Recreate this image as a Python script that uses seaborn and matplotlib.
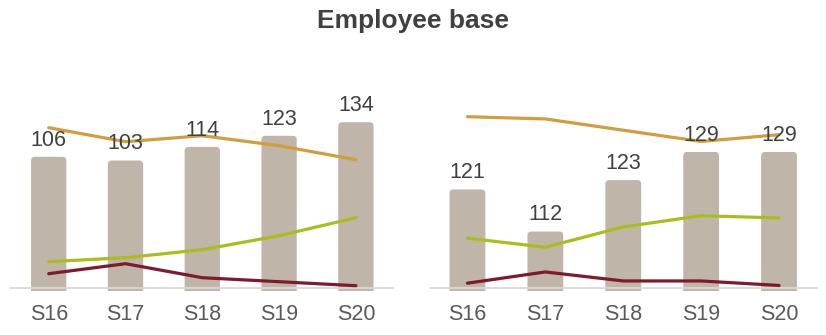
import numpy as np
import pandas as pd
import matplotlib
matplotlib.use("Agg")
import matplotlib.pyplot as plt
import seaborn as sns
from matplotlib.patches import FancyBboxPatch

# ---- data -------------------------------------------------------------
periods = ["S16", "S17", "S18", "S19", "S20"]

left_totals = [106, 103, 114, 123, 134]
left_gold = [80, 73, 76, 71, 64]
left_green = [13, 15, 19, 26, 35]
left_red = [7, 12, 5, 3, 1]

right_totals = [121, 112, 123, 129, 129]
right_gold = [76, 75, 70, 65, 68]
right_green = [22, 18, 27, 32, 31]
right_red = [2, 7, 3, 3, 1]

# ---- style ------------------------------------------------------------
BAR = "#BFB6A9"
GOLD = "#D09E3B"
GREEN = "#A9BE1B"
RED = "#7E1A2B"
LABEL = "#404040"
TICK = "#595959"
BASE = "#D9D9D9"

sns.set_theme(style="white")
plt.rcParams["font.family"] = ["Liberation Sans", "DejaVu Sans"]

fig = plt.figure(figsize=(8.26, 3.35), dpi=100)
fig.patch.set_facecolor("white")

H = 335.0
W = 826.0
ax_bottom = (H - 291) / H
ax_height = (291 - 60) / H

ax_left = fig.add_axes([10.3 / W, ax_bottom, 384 / W, ax_height])
ax_right = fig.add_axes([428.5 / W, ax_bottom, 389.5 / W, ax_height])


def draw_panel(ax, totals, gold, green, red, bar_lim, base_value, line_lim):
    df = pd.DataFrame({"period": periods, "total": totals})
    sns.barplot(data=df, x="period", y="total", color=BAR, width=0.46,
                saturation=1, ax=ax, zorder=2)
    ax.set_xlim(-0.5, 4.5)
    ax.set_ylim(*bar_lim)

    cont = ax.containers[0]

    # replace the square bars with softly rounded ones
    p0 = ax.transData.transform((0, 0))
    p1 = ax.transData.transform((1, 1))
    sx = p1[0] - p0[0]
    sy = p1[1] - p0[1]
    r = 4.0 / sx
    y_start = bar_lim[0] - 6.0 / sy
    for rect in cont.patches:
        x = rect.get_x()
        w = rect.get_width()
        top = rect.get_y() + rect.get_height()
        fb = FancyBboxPatch((x, y_start), w, top - y_start,
                            boxstyle=f"round,pad=0,rounding_size={r}",
                            mutation_aspect=sx / sy,
                            facecolor=BAR, edgecolor="none", zorder=2)
        ax.add_patch(fb)
        rect.set_visible(False)

    ax.axhline(base_value, color=BASE, lw=1.3, zorder=3)

    for s in ax.spines.values():
        s.set_visible(False)
    ax.set_yticks([])
    ax.set_xlabel("")
    ax.set_ylabel("")
    ax.tick_params(axis="x", length=0, pad=9.5, labelsize=15.5, labelcolor=TICK)

    # headcount mix lines on a hidden secondary scale
    tw = ax.twinx()
    ldf = pd.DataFrame({
        "period": periods * 3,
        "share": list(gold) + list(green) + list(red),
        "group": ["gold"] * 5 + ["green"] * 5 + ["red"] * 5,
    })
    sns.lineplot(data=ldf, x="period", y="share", hue="group",
                 palette=[GOLD, GREEN, RED], lw=2.3, legend=False,
                 sort=False, ax=tw, zorder=4)
    tw.set_ylim(*line_lim)
    tw.axis("off")
    ax.set_xlim(-0.5, 4.5)

    # value labels sit above the lines
    for rect, v in zip(cont.patches, totals):
        xc = rect.get_x() + rect.get_width() / 2
        tw.annotate(str(v), xy=(xc, v), xycoords=ax.transData,
                    xytext=(0, 4.5), textcoords="offset points",
                    ha="center", va="bottom", fontsize=15.5, color=LABEL,
                    zorder=6)


draw_panel(ax_left, left_totals, left_gold, left_green, left_red,
           bar_lim=(-3.3 / 1.235, 227.7 / 1.235), base_value=0,
           line_lim=(-3.3 / 2.0, 227.7 / 2.0))
draw_panel(ax_right, right_totals, right_gold, right_green, right_red,
           bar_lim=(100 - 3.3 / 4.68, 100 + 227.7 / 4.68), base_value=100,
           line_lim=(-3.3 / 2.25, 227.7 / 2.25))

fig.text(0.5, 1 - 21 / H, "Employee base", ha="center", va="center",
         fontsize=19, fontweight="bold", color=LABEL)

fig.savefig("out.png", dpi=100, facecolor="white")
